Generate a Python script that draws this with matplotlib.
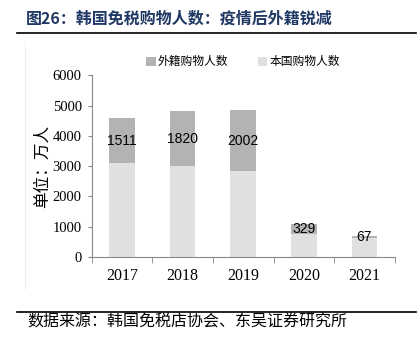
import matplotlib.pyplot as plt
import numpy as np

plt.rcParams['font.family'] = ['Noto Sans CJK SC', 'DejaVu Sans']

# Data
years = ['2017', '2018', '2019', '2020', '2021']
domestic = [3090, 2990, 2840, 750, 620]
foreign = [1511, 1820, 2002, 329, 67]

fig = plt.figure(figsize=(4.2, 3.52), dpi=100)
ax = fig.add_axes([0.218, 0.270, 0.722, 0.516])

x = np.arange(len(years))
w = 0.42
ax.bar(x, domestic, w, color='#e0e0e0', label='本国购物人数')
ax.bar(x, foreign, w, bottom=domestic, color='#b3b3b3', label='外籍购物人数')

for xi, d, f in zip(x, domestic, foreign):
    ax.text(xi, d + f / 2, str(f), ha='center', va='center', fontsize=10,
            family='Liberation Sans', color='black')

ax.set_xlim(-0.5, len(years) - 0.5)
ax.set_ylim(0, 6000)
ax.set_yticks(range(0, 6001, 1000))
ax.set_yticklabels([str(v) for v in range(0, 6001, 1000)], family='Liberation Serif', fontsize=10.5)
ax.set_xticks(x)
ax.set_xticklabels(years, family='Liberation Serif', fontsize=11.5)
ax.set_xticks(np.arange(-0.5, len(years), 1), minor=True)
ax.tick_params(axis='x', which='major', length=0, pad=8)
ax.tick_params(axis='x', which='minor', length=4, color='#888888', direction='out')
ax.tick_params(axis='y', length=3, color='#888888', pad=4)

for s in ['top', 'right']:
    ax.spines[s].set_visible(False)
for s in ['left', 'bottom']:
    ax.spines[s].set_color('#888888')
    ax.spines[s].set_linewidth(0.8)

ax.set_ylabel('单位：万人', fontsize=12, labelpad=1)

handles, labels = ax.get_legend_handles_labels()
ax.legend(handles[::-1], labels[::-1], loc='lower center', bbox_to_anchor=(0.5, 0.98),
          ncol=2, frameon=False, fontsize=8.5, handlelength=0.8, handleheight=0.8,
          handletextpad=0.2, columnspacing=2.5)

# Title, rules and source
fig.text(0.062, 0.948, '图26：韩国免税购物人数：疫情后外籍锐减', fontsize=11.5,
         fontweight='bold', color='#1f3864', va='center')
fig.add_artist(plt.Line2D([0.04, 0.99], [0.906, 0.906], color='black', lw=1.2))
fig.add_artist(plt.Line2D([0.04, 0.99], [0.114, 0.114], color='black', lw=1.2))
fig.add_artist(plt.Line2D([0.06, 0.06], [0.18, 0.88], color='#f0f0f0', lw=0.8))
fig.text(0.064, 0.085, '数据来源：韩国免税店协会、东吴证券研究所', fontsize=11.5, va='center')

fig.savefig('out.png', dpi=100)
